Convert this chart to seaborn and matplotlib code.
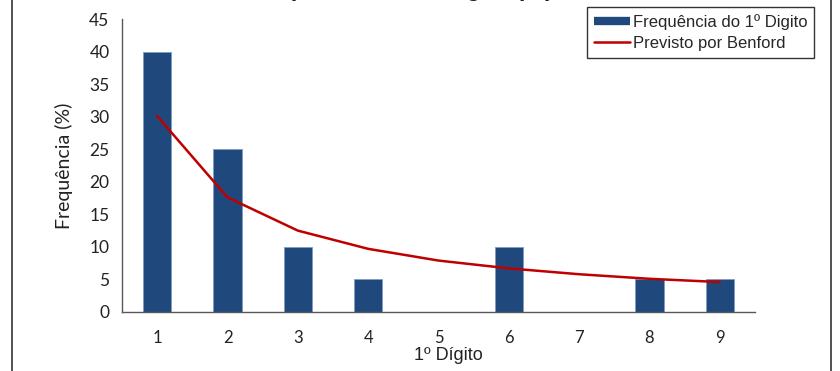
import numpy as np
import pandas as pd
import matplotlib
matplotlib.use("Agg")
import matplotlib.pyplot as plt
from matplotlib.lines import Line2D
import seaborn as sns

# Data
digits = ["1", "2", "3", "4", "5", "6", "7", "8", "9"]
observed = [40, 25, 10, 5, 0, 10, 0, 5, 5]
benford = [30.1, 17.6, 12.5, 9.7, 7.9, 6.7, 5.8, 5.1, 4.6]

bar_color = "#1F497D"
line_color = "#C00000"

df = pd.DataFrame({"digit": digits, "observed": observed, "benford": benford})
df["pos"] = np.arange(len(digits))

sns.set_style("white")
plt.rcParams["font.family"] = ["Lato", "DejaVu Sans"]

fig = plt.figure(figsize=(8.4, 3.71), dpi=100)
ax = fig.add_axes([122 / 840, 1 - 312 / 371, (755 - 122) / 840, (312 - 19) / 371])

sns.barplot(data=df, x="digit", y="observed", order=digits, color=bar_color,
            width=0.4, saturation=1, edgecolor="#7f9cc0", linewidth=0.6, ax=ax)
sns.lineplot(data=df, x="pos", y="benford", color=line_color, linewidth=1.8, ax=ax)

ax.set_xlim(-0.5, 8.5)
ax.set_ylim(0, 45)
ax.set_yticks(np.arange(0, 46, 5))

# tick marks between categories, labels at the centres
ax.set_xticks(np.arange(-0.5, 9, 1))
ax.set_xticklabels([])
ax.set_xticks(df["pos"], minor=True)
ax.set_xticklabels(digits, minor=True)
ax.tick_params(axis="x", which="major", length=5, width=1, color="#595959", direction="out")
ax.tick_params(axis="x", which="minor", length=0, pad=13, labelsize=12, labelcolor="#222222")
ax.tick_params(axis="y", length=5, width=1, color="#595959", direction="out",
               labelsize=12.5, labelcolor="#222222", pad=4)

for side in ["top", "right"]:
    ax.spines[side].set_visible(False)
for side in ["left", "bottom"]:
    ax.spines[side].set_color("#595959")
    ax.spines[side].set_linewidth(1)

ax.set_ylabel("Frequência (%)", fontsize=14, color="#222222", labelpad=12)
ax.set_xlabel("")
fig.text(448 / 840, 1 - 355 / 371, "1º Dígito", ha="center", va="center",
         fontsize=13, color="#222222", family=["Liberation Sans", "DejaVu Sans"])

# title is mostly cut off at the top of the picture
fig.text(553 / 840, 1 + 3.5 / 371, "Frequência do 1º Dígito (%)", ha="right", va="baseline",
         fontsize=17, fontweight="bold", color="#222222",
         family=["Liberation Sans", "DejaVu Sans"])

handles = [Line2D([], [], color=bar_color, linewidth=6, solid_capstyle="butt"),
           Line2D([], [], color=line_color, linewidth=1.8)]
leg = ax.legend(handles, ["Frequência do 1º Digito", "Previsto por Benford"],
                loc="upper right", bbox_to_anchor=(814 / 840, 1 - 7 / 371),
                bbox_transform=fig.transFigure, borderaxespad=0, frameon=True,
                fancybox=False, edgecolor="black", handlelength=2.2, handletextpad=0.15,
                labelspacing=0.4, borderpad=0.4,
                prop={"family": ["Liberation Sans", "DejaVu Sans"], "size": 12})
leg.get_frame().set_linewidth(1)

# chart-area frame: only the left and right edges are visible
fig.add_artist(Line2D([11.5 / 840, 11.5 / 840], [0, 1], color="#333333", linewidth=1.2))
fig.add_artist(Line2D([831 / 840, 831 / 840], [0, 1], color="#333333", linewidth=1.2))

fig.savefig("out.png", dpi=100)
